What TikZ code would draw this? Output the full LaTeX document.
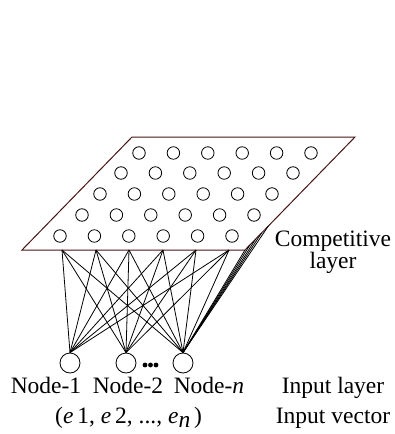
\documentclass[tikz,border=0pt]{standalone}
\usepackage{fontspec}
\setmainfont{Liberation Serif}
\begin{document}
\begin{tikzpicture}[x=1pt,y=-1pt,
  edgecol/.style={draw={rgb,255:red,70;green,20;blue,20}, line width=1pt},
  unit/.style={circle, draw, line width=0.8pt, minimum size=12.5pt, inner sep=0pt},
  inunit/.style={circle, draw, line width=0.8pt, minimum size=20pt, inner sep=0pt},
  link/.style={draw, line width=0.8pt},
  lbl/.style={anchor=base, inner sep=0pt, font=\fontsize{23.5}{26}\selectfont}]
\useasboundingbox (0,0) rectangle (395,434);

% competitive layer plane
\draw[edgecol] (22,250) -- (132,137) -- (355,137) -- (245,250) -- cycle;

% 5 x 6 grid of competitive units, each row shifted right
\foreach \r/\xs/\y in {1/139/153, 2/121/173, 3/100/194, 4/82/215, 5/60/236}{
  \foreach \c in {0,...,5}{
    \node[unit] (c-\r-\c) at ({\xs+34.4*\c},\y) {};
  }
}

% input units
\node[inunit] (in1) at (70,363) {};
\node[inunit] (in2) at (126,363) {};
\node[inunit] (in3) at (183,363) {};
\foreach \xx in {145,150.5,156}
  \fill (\xx,365) circle (2.4pt);

% points on the lower edge of the plane where the weights leave
\foreach \j/\xx in {1/62,2/96,3/129,4/163,5/196,6/229}
  \coordinate (b\j) at (\xx,250);
% points along the right edge of the plane
\foreach \j/\yy in {1/250,2/245,3/239,4/233,5/226}
  \coordinate (r\j) at ({245+(250-\yy)*0.973},\yy);

\foreach \j in {1,...,6}{
  \draw[link] (b\j) -- (in1.north);
  \draw[link] (b\j) -- (in2.north);
  \draw[link] (b\j) -- (in3.north);
}
\foreach \j in {1,...,5}
  \draw[link] (r\j) -- (in3.north);

% labels
\node[lbl] (t1) at (333,246) {Competitive};
\node[lbl] (t2) at (333,268) {layer};
\node[lbl] (n1) at (46,393) {Node-1};
\node[lbl] (n2) at (128,393) {Node-2};
\node[lbl] (n3) at (209,393) {Node-\textit{n}};
\node[lbl] (il) at (333,393) {Input layer};
\node[lbl, anchor=base west] (iv) at (55,423) {(\textit{e}\,1, \textit{e}\,2, ..., \textit{e}\raisebox{-4pt}{\textit{n}}\,)};
\node[lbl] (ivl) at (333,423) {Input vector};
\end{tikzpicture}
\end{document}
